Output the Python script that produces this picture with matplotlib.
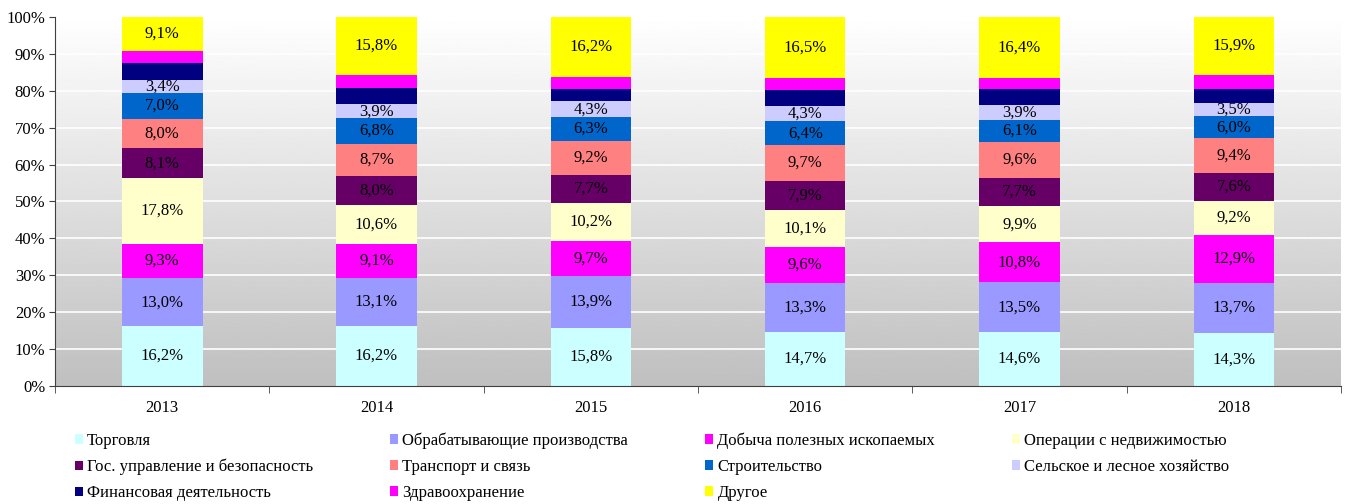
import numpy as np
import matplotlib
matplotlib.use("Agg")
import matplotlib.pyplot as plt
from matplotlib.patches import Patch

plt.rcParams["font.family"] = ["Liberation Serif", "DejaVu Serif"]

years = ["2013", "2014", "2015", "2016", "2017", "2018"]

categories = [
    "Торговля",
    "Обрабатывающие производства",
    "Добыча полезных ископаемых",
    "Операции с недвижимостью",
    "Гос. управление и безопасность",
    "Транспорт и связь",
    "Строительство",
    "Сельское и лесное хозяйство",
    "Финансовая деятельность",
    "Здравоохранение",
    "Другое",
]

trade = [16.2, 16.2, 15.8, 14.7, 14.6, 14.3]
manufacturing = [13.0, 13.1, 13.9, 13.3, 13.5, 13.7]
mining = [9.3, 9.1, 9.7, 9.6, 10.8, 12.9]
real_estate = [17.8, 10.6, 10.2, 10.1, 9.9, 9.2]
government = [8.1, 8.0, 7.7, 7.9, 7.7, 7.6]
transport = [8.0, 8.7, 9.2, 9.7, 9.6, 9.4]
construction = [7.0, 6.8, 6.3, 6.4, 6.1, 6.0]
agriculture = [3.4, 3.9, 4.3, 4.3, 3.9, 3.5]
finance = [4.6, 4.4, 3.4, 4.3, 4.4, 4.0]      # no labels on chart, estimated
health = [3.5, 3.4, 3.3, 3.2, 3.1, 3.6]       # no labels on chart, estimated
other = [9.1, 15.8, 16.2, 16.5, 16.4, 15.9]

series = [trade, manufacturing, mining, real_estate, government, transport,
          construction, agriculture, finance, health, other]
show_label = [True] * 8 + [False, False, True]

colors = ["#CCFFFF", "#9999FF", "#FF00FF", "#FFFFCC", "#660066", "#FF8080",
          "#0066CC", "#CCCCFF", "#000080", "#FF00FF", "#FFFF00"]

fs = 12

fig = plt.figure(figsize=(13.46, 5.04), dpi=100)
ax = fig.add_axes([0.0409, 0.2341, 0.9554, 0.7322])

x = np.arange(len(years))
ax.set_xlim(-0.5, len(years) - 0.5)
ax.set_ylim(0, 100)

# gradient background
grad = np.linspace(0.75, 1.0, 256).reshape(-1, 1)
ax.imshow(grad, extent=(-0.5, len(years) - 0.5, 0, 100), origin="lower",
          aspect="auto", cmap="gray", vmin=0, vmax=1, zorder=0)

for yv in range(10, 100, 10):
    ax.axhline(yv, color="white", lw=1.2, zorder=1)

bottom = np.zeros(len(years))
for name, vals, col, lab in zip(categories, series, colors, show_label):
    vals = np.array(vals)
    ax.bar(x, vals, bottom=bottom, width=0.376, color=col, zorder=2)
    if lab:
        for xi, b, v in zip(x, bottom, vals):
            ax.text(xi, b + v / 2, f"{v:.1f}%".replace(".", ","),
                    ha="center", va="center", fontsize=fs, color="black",
                    zorder=3)
    bottom += vals

ax.set_yticks(range(0, 101, 10))
ax.set_yticklabels([f"{v}%" for v in range(0, 101, 10)], fontsize=fs)
ax.set_xticks(x)
ax.set_xticklabels(years, fontsize=fs)
ax.tick_params(axis="x", length=0, pad=10)
ax.set_xticks(np.arange(-0.5, len(years) + 0.5, 1), minor=True)
ax.tick_params(axis="x", which="minor", length=5, color="#404040")
ax.tick_params(axis="y", length=4, color="#404040", pad=3)
for s in ["top", "right"]:
    ax.spines[s].set_visible(False)
for s in ["left", "bottom"]:
    ax.spines[s].set_color("#404040")

# legend: rows of 4, filled row by row
order = []
for j in range(4):
    order += list(range(j, len(categories), 4))
handles = [Patch(facecolor=colors[i], edgecolor="none") for i in order]
labels = [categories[i] for i in order]
fig.legend(handles, labels, loc="upper left", ncol=4,
           bbox_to_anchor=(0.0555, 0.142), frameon=False, fontsize=fs,
           handlelength=0.5, handleheight=0.5, handletextpad=0.25,
           labelspacing=0.6, columnspacing=4.6, borderpad=0,
           borderaxespad=0)

fig.savefig("out.png", dpi=100)
